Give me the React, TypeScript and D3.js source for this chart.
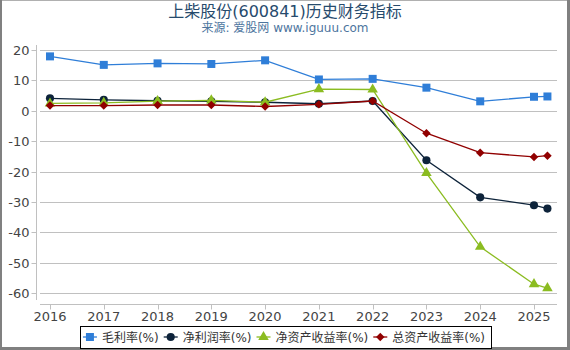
import { useEffect, useRef } from 'react';
import * as d3 from 'd3';

// periods (last point is a partial year)
const periods = [2016, 2017, 2018, 2019, 2020, 2021, 2022, 2023, 2024, 2025, 2025.25];
const yearTicks = [2016, 2017, 2018, 2019, 2020, 2021, 2022, 2023, 2024, 2025];
const yTicks = [20, 10, 0, -10, -20, -30, -40, -50, -60];

const grossMargin = [17.9, 15.1, 15.6, 15.4, 16.6, 10.3, 10.5, 7.6, 3.1, 4.6, 4.7];
const netMargin = [4.1, 3.6, 3.3, 3.1, 2.8, 2.3, 3.2, -16.3, -28.5, -31.1, -32.2];
const roe = [2.4, 2.6, 3.2, 3.4, 2.8, 7.1, 7.0, -20.5, -44.8, -57.1, -58.4];
const roa = [1.7, 1.7, 1.9, 1.9, 1.4, 2.1, 3.2, -7.4, -13.8, -15.2, -14.8];

// square diamond (d3's own diamond is tall and narrow)
const symbolRhombus = {
    draw(ctx: any, size: number) {
        const r = Math.sqrt(size / 2);
        ctx.moveTo(0, -r);
        ctx.lineTo(r, 0);
        ctx.lineTo(0, r);
        ctx.lineTo(-r, 0);
        ctx.closePath();
    },
};

const seriesNames = ['毛利率(%)', '净利润率(%)', '净资产收益率(%)', '总资产收益率(%)'];
const seriesColors = ['#2f7ed8', '#0d233a', '#8bbc21', '#910000'];
const seriesSymbols: any[] = [d3.symbolSquare, d3.symbolCircle, d3.symbolTriangle, symbolRhombus];
const seriesSizes = [64, 52, 48, 36];

const FONT = '"DejaVu Sans", "Noto Sans CJK SC", sans-serif';

export default function App() {
    const svgRef = useRef<SVGSVGElement>(null);

    useEffect(() => {
        if (!svgRef.current) return;
        const svg = d3.select(svgRef.current);
        svg.selectAll('*').remove();

        const W = 570, H = 350;

        svg.append('rect').attr('width', W).attr('height', H).attr('fill', '#fff');

        // frame
        svg.append('line').attr('x1', 0).attr('x2', W).attr('y1', 0.5).attr('y2', 0.5).attr('stroke', '#b0b0b0');
        svg.append('line').attr('x1', 1).attr('x2', 1).attr('y1', 0).attr('y2', H).attr('stroke', '#808080').attr('stroke-width', 2);
        svg.append('line').attr('x1', 568.5).attr('x2', 568.5).attr('y1', 0).attr('y2', H).attr('stroke', '#808080').attr('stroke-width', 3);
        svg.append('line').attr('x1', 0).attr('x2', W).attr('y1', 348.5).attr('y2', 348.5).attr('stroke', '#808080').attr('stroke-width', 3);

        // title
        svg.append('text').attr('x', 285).attr('y', 17).attr('text-anchor', 'middle')
            .style('font-family', FONT).style('font-size', '16px').attr('fill', '#274b6d')
            .text('上柴股份(600841)历史财务指标');
        svg.append('text').attr('x', 285).attr('y', 32).attr('text-anchor', 'middle')
            .style('font-family', FONT).style('font-size', '12px').attr('fill', '#4d759e')
            .text('来源: 爱股网 www.iguuu.com');

        // scales
        const x = d3.scaleLinear().domain([2015.814, 2025.428]).range([40, 557]);
        const y = d3.scaleLinear().domain([-60, 20]).range([293, 50]);

        // grid
        svg.append('g').selectAll('line').data(yTicks).enter().append('line')
            .attr('x1', 40).attr('x2', 557)
            .attr('y1', d => Math.round(y(d)) + 0.5).attr('y2', d => Math.round(y(d)) + 0.5)
            .attr('stroke', '#c0c0c0');

        // y axis
        const yAxis = svg.append('g').attr('transform', 'translate(36.5,0)');
        yAxis.append('line').attr('y1', 45).attr('y2', 300).attr('stroke', '#c0c0c0');
        yAxis.selectAll('line.t').data(yTicks).enter().append('line').attr('class', 't')
            .attr('x1', -5).attr('x2', 0)
            .attr('y1', d => Math.round(y(d)) + 0.5).attr('y2', d => Math.round(y(d)) + 0.5)
            .attr('stroke', '#c0c0c0');
        yAxis.selectAll('text').data(yTicks).enter().append('text')
            .attr('x', -7).attr('y', d => y(d) + 5).attr('text-anchor', 'end')
            .style('font-family', FONT).style('font-size', '13px').attr('fill', '#444')
            .text(d => String(d));

        // x axis
        const xAxis = svg.append('g').attr('transform', 'translate(0,304.5)');
        xAxis.append('line').attr('x1', 40).attr('x2', 557).attr('stroke', '#c0c0c0');
        xAxis.selectAll('line.t').data(yearTicks).enter().append('line').attr('class', 't')
            .attr('x1', d => Math.round(x(d)) + 0.5).attr('x2', d => Math.round(x(d)) + 0.5)
            .attr('y1', 0).attr('y2', 5).attr('stroke', '#c0c0c0');
        xAxis.selectAll('text').data(yearTicks).enter().append('text')
            .attr('x', d => x(d)).attr('y', 16).attr('text-anchor', 'middle')
            .style('font-family', FONT).style('font-size', '13px').attr('fill', '#444')
            .text(d => String(d));

        // series
        const allSeries = [grossMargin, netMargin, roe, roa];
        const line = d3.line<number>().x((_, i) => x(periods[i])).y(d => y(d));
        allSeries.forEach((vals, si) => {
            const g = svg.append('g');
            g.append('path').datum(vals).attr('d', line).attr('fill', 'none')
                .attr('stroke', seriesColors[si]).attr('stroke-width', 1.3);
            g.selectAll('path.m').data(vals).enter().append('path').attr('class', 'm')
                .attr('d', d3.symbol().type(seriesSymbols[si]).size(seriesSizes[si]))
                .attr('transform', (d, i) => `translate(${x(periods[i])},${y(d)})`)
                .attr('fill', seriesColors[si]);
        });

        // legend
        const legend = svg.append('g');
        const items = legend.selectAll('g').data(seriesNames).enter().append('g');
        items.append('line').attr('x1', 0).attr('x2', 14).attr('y1', 0).attr('y2', 0)
            .attr('stroke', (_, i) => seriesColors[i]).attr('stroke-width', 1.3);
        items.append('path')
            .attr('d', (_, i) => d3.symbol().type(seriesSymbols[i]).size(seriesSizes[i])())
            .attr('transform', 'translate(7,0)')
            .attr('fill', (_, i) => seriesColors[i]);
        items.append('text').attr('x', 19).attr('y', 4.5)
            .style('font-family', FONT).style('font-size', '12px').attr('fill', '#333')
            .text(d => d);
        let cx = 0;
        items.each(function () {
            const t = d3.select(this).select('text').node() as SVGTextElement;
            const w = t.getComputedTextLength();
            d3.select(this).attr('data-x', cx);
            cx += 19 + w + 5;
        });
        const total = cx - 5;
        const left = 285.5 - (total + 9) / 2;
        items.attr('transform', function () {
            return `translate(${left + 3 + Number(d3.select(this).attr('data-x'))},337)`;
        });
        legend.insert('rect', ':first-child')
            .attr('x', Math.round(left) + 0.5).attr('y', 326.5)
            .attr('width', Math.round(total + 9)).attr('height', 22)
            .attr('fill', '#fff').attr('stroke', '#000');
    }, []);

    return (
        <svg ref={svgRef} width={570} height={350}
            style={{ position: 'absolute', left: 0, top: 0, display: 'block' }} />
    );
}
